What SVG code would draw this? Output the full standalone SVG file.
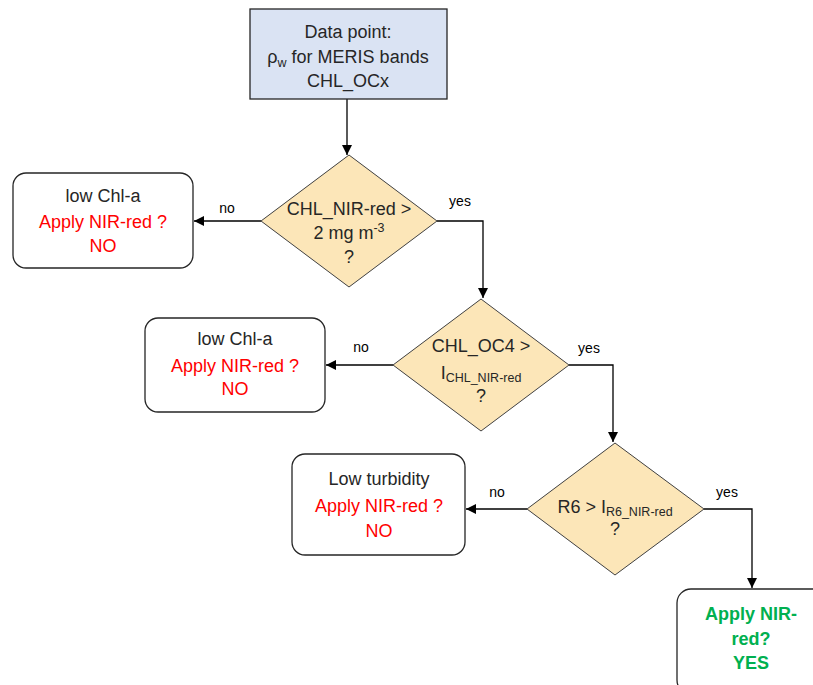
<svg xmlns="http://www.w3.org/2000/svg" width="813" height="685" viewBox="0 0 813 685">
<defs>
<marker id="arr" viewBox="0 0 10 10" refX="10" refY="5" markerWidth="10" markerHeight="10" markerUnits="userSpaceOnUse" orient="auto">
<path d="M0,0 L10,5 L0,10 z" fill="#000"/>
</marker>
<style>
text{font-family:"Liberation Sans",Arial,sans-serif;font-size:18px;fill:#262626;text-anchor:middle}
.lbl{font-size:14px;fill:#000}
.red{fill:#FF0000}
.grn{fill:#00B050;font-weight:bold}
.box{fill:#fff;stroke:#262626;stroke-width:1.3}
.start{fill:#DAE3F3;stroke:#262626;stroke-width:1.3}
.dec{fill:#FCE6B8;stroke:#404040;stroke-width:1}
.sub{font-size:12.5px}
.con{fill:none;stroke:#000;stroke-width:1.3;marker-end:url(#arr)}
</style>
</defs>
<rect width="813" height="685" fill="#fff"/>
<g id="connectors">
<path class="con" d="M347,99 V155"/>
<path class="con" d="M261,221 H194"/>
<path class="con" d="M437,221 H483 V298"/>
<path class="con" d="M393,365 H326"/>
<path class="con" d="M569,365 H613 V442"/>
<path class="con" d="M527,509 H466"/>
<path class="con" d="M704,509 H752 V588"/>
<text class="lbl" x="227" y="213">no</text>
<text class="lbl" x="460" y="206">yes</text>
<text class="lbl" x="361" y="352">no</text>
<text class="lbl" x="589" y="353">yes</text>
<text class="lbl" x="497" y="497">no</text>
<text class="lbl" x="727" y="497">yes</text>
</g>
<g id="start">
<rect class="start" x="250" y="9" width="197" height="90"/>
<text x="348" y="38">Data point:</text>
<text x="348" y="63">ρ<tspan class="sub" dy="4">w</tspan><tspan dy="-4"> for MERIS bands</tspan></text>
<text x="348" y="87">CHL_OCx</text>
</g>
<g id="d1">
<polygon class="dec" points="349,155 437,221 349,287 261,221"/>
<text x="349" y="215">CHL_NIR-red &gt;</text>
<text x="349" y="239">2 mg m<tspan class="sub" dy="-7">-3</tspan></text>
<text x="349" y="263">?</text>
</g>
<g id="n1">
<rect class="box" x="13" y="173" width="180" height="95" rx="13"/>
<text x="103" y="202">low Chl-a</text>
<text class="red" x="103" y="228">Apply NIR-red ?</text>
<text class="red" x="103" y="252">NO</text>
</g>
<g id="d2">
<polygon class="dec" points="481,299 569,365 481,431 393,365"/>
<text x="481" y="352">CHL_OC4 &gt;</text>
<text x="481" y="379">I<tspan class="sub" dy="3">CHL_NIR-red</tspan></text>
<text x="481" y="402">?</text>
</g>
<g id="n2">
<rect class="box" x="145" y="318" width="180" height="94" rx="13"/>
<text x="235" y="345">low Chl-a</text>
<text class="red" x="235" y="372">Apply NIR-red ?</text>
<text class="red" x="235" y="395">NO</text>
</g>
<g id="d3">
<polygon class="dec" points="615,443 704,509 615,575 527,509"/>
<text x="615" y="513">R6 &gt; I<tspan class="sub" dy="3">R6_NIR-red</tspan></text>
<text x="615" y="535">?</text>
</g>
<g id="n3">
<rect class="box" x="292" y="454" width="173" height="101" rx="13"/>
<text x="379" y="485">Low turbidity</text>
<text class="red" x="379" y="512">Apply NIR-red ?</text>
<text class="red" x="379" y="537">NO</text>
</g>
<g id="n4">
<rect class="box" x="677" y="589" width="150" height="105" rx="14"/>
<text class="grn" x="751" y="620">Apply NIR-</text>
<text class="grn" x="751" y="645">red?</text>
<text class="grn" x="751" y="669">YES</text>
</g>
</svg>
